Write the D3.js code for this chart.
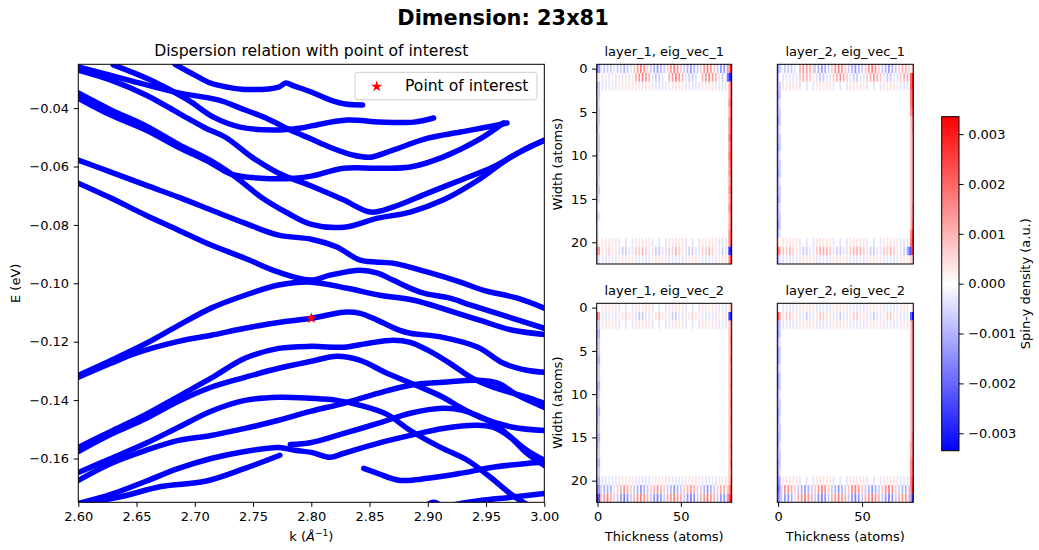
<!DOCTYPE html>
<html>
<head>
<meta charset="utf-8">
<script src="https://cdn.jsdelivr.net/npm/d3@7"></script>
<style>
  html, body { margin: 0; padding: 0; background: #fff; }
  svg { display: block; font-family: "DejaVu Sans", sans-serif; }
</style>
</head>
<body>
<svg id="fig" width="1039" height="550"></svg>
<script>
// ---------- dispersion bands, points are [k (1/Å), E (eV)] ----------
const band01 = [[2.683,-0.0250],[2.700,-0.0287],[2.714,-0.0315],[2.729,-0.0329],[2.743,-0.0336],[2.772,-0.0328],[2.778,-0.0314],[2.785,-0.0324],[2.800,-0.0345],[2.816,-0.0372],[2.829,-0.0386],[2.844,-0.0389]];
const band02 = [[2.630,-0.0252],[2.662,-0.0304],[2.694,-0.0372],[2.716,-0.0431],[2.739,-0.0465],[2.767,-0.0475],[2.791,-0.0468],[2.800,-0.0461],[2.831,-0.0441],[2.859,-0.0448],[2.888,-0.0448],[2.905,-0.0434]];
const band03 = [[2.600,-0.0259],[2.643,-0.0304],[2.686,-0.0348],[2.720,-0.0372],[2.739,-0.0400],[2.761,-0.0434],[2.782,-0.0475],[2.800,-0.0506],[2.816,-0.0534],[2.836,-0.0561],[2.851,-0.0568],[2.870,-0.0544],[2.900,-0.0503],[2.928,-0.0482],[2.960,-0.0458],[2.968,-0.0451]];
const band04 = [[2.600,-0.0366],[2.628,-0.0424],[2.658,-0.0475],[2.686,-0.0534],[2.714,-0.0588],[2.731,-0.0626],[2.757,-0.0640],[2.786,-0.0640],[2.800,-0.0633],[2.828,-0.0606],[2.857,-0.0606],[2.885,-0.0602],[2.913,-0.0568],[2.943,-0.0510],[2.965,-0.0451]];
const band05 = [[2.600,-0.0270],[2.628,-0.0304],[2.658,-0.0355],[2.686,-0.0417],[2.709,-0.0468],[2.726,-0.0499],[2.749,-0.0568],[2.772,-0.0623],[2.800,-0.0667],[2.828,-0.0715],[2.851,-0.0756],[2.870,-0.0739],[2.900,-0.0691],[2.928,-0.0647],[2.956,-0.0602],[2.985,-0.0537],[3.000,-0.0510]];
const band06 = [[2.600,-0.0348],[2.628,-0.0406],[2.658,-0.0461],[2.686,-0.0524],[2.714,-0.0581],[2.735,-0.0636],[2.757,-0.0705],[2.780,-0.0760],[2.800,-0.0798],[2.828,-0.0808],[2.857,-0.0777],[2.885,-0.0756],[2.913,-0.0715],[2.943,-0.0647],[2.971,-0.0568],[3.000,-0.0510]];
const band07 = [[2.600,-0.0578],[2.628,-0.0619],[2.658,-0.0664],[2.686,-0.0705],[2.714,-0.0749],[2.743,-0.0794],[2.772,-0.0835],[2.800,-0.0849],[2.822,-0.0876],[2.842,-0.0921],[2.870,-0.0931],[2.900,-0.0962],[2.928,-0.0996],[2.948,-0.1024],[2.977,-0.1051],[3.000,-0.1085]];
const band08 = [[2.600,-0.0657],[2.628,-0.0708],[2.658,-0.0767],[2.686,-0.0818],[2.714,-0.0869],[2.743,-0.0914],[2.772,-0.0962],[2.800,-0.0989],[2.816,-0.0972],[2.842,-0.0955],[2.857,-0.0965],[2.870,-0.0989],[2.894,-0.1031],[2.919,-0.1051],[2.937,-0.1075],[2.965,-0.1110],[3.000,-0.1154]];
const band09 = [[2.600,-0.1315],[2.628,-0.1264],[2.658,-0.1206],[2.686,-0.1144],[2.714,-0.1085],[2.743,-0.1041],[2.772,-0.1006],[2.800,-0.0996],[2.831,-0.1017],[2.859,-0.1041],[2.888,-0.1058],[2.917,-0.1092],[2.945,-0.1127],[2.973,-0.1161],[3.000,-0.1175]];
const band10 = [[2.600,-0.1322],[2.628,-0.1274],[2.649,-0.1240],[2.686,-0.1199],[2.714,-0.1178],[2.743,-0.1154],[2.772,-0.1134],[2.800,-0.1120],[2.828,-0.1099],[2.842,-0.1103],[2.857,-0.1127],[2.876,-0.1161],[2.885,-0.1171],[2.913,-0.1185],[2.943,-0.1219],[2.965,-0.1274],[2.985,-0.1298],[3.000,-0.1305]];
const band11 = [[2.600,-0.1562],[2.628,-0.1507],[2.658,-0.1449],[2.686,-0.1387],[2.714,-0.1325],[2.743,-0.1257],[2.772,-0.1223],[2.800,-0.1216],[2.828,-0.1219],[2.848,-0.1206],[2.870,-0.1195],[2.885,-0.1202],[2.900,-0.1229],[2.919,-0.1274],[2.937,-0.1322],[2.956,-0.1356],[2.985,-0.1390],[3.000,-0.1411]];
const band12 = [[2.600,-0.1576],[2.628,-0.1517],[2.658,-0.1463],[2.686,-0.1404],[2.714,-0.1356],[2.743,-0.1322],[2.772,-0.1291],[2.800,-0.1267],[2.822,-0.1250],[2.842,-0.1264],[2.865,-0.1308],[2.894,-0.1356],[2.913,-0.1390],[2.928,-0.1425],[2.945,-0.1459],[2.973,-0.1493],[3.000,-0.1504]];
const band13 = [[2.600,-0.1648],[2.628,-0.1600],[2.658,-0.1548],[2.686,-0.1493],[2.714,-0.1438],[2.743,-0.1401],[2.772,-0.1390],[2.800,-0.1394],[2.822,-0.1401],[2.842,-0.1418],[2.865,-0.1449],[2.885,-0.1504],[2.911,-0.1562],[2.934,-0.1606],[2.954,-0.1665],[2.973,-0.1727],[2.986,-0.1760]];
const band14 = [[2.600,-0.1675],[2.628,-0.1617],[2.658,-0.1572],[2.686,-0.1538],[2.714,-0.1521],[2.743,-0.1497],[2.772,-0.1469],[2.800,-0.1438],[2.828,-0.1411],[2.857,-0.1377],[2.885,-0.1349],[2.913,-0.1339],[2.943,-0.1332],[2.960,-0.1342],[2.977,-0.1383],[3.000,-0.1425]];
const band15 = [[2.600,-0.1754],[2.628,-0.1723],[2.658,-0.1678],[2.686,-0.1634],[2.714,-0.1600],[2.743,-0.1576],[2.772,-0.1562],[2.786,-0.1572],[2.800,-0.1579],[2.816,-0.1596],[2.828,-0.1582],[2.857,-0.1548],[2.885,-0.1521],[2.913,-0.1497],[2.943,-0.1486],[2.956,-0.1493],[2.971,-0.1528],[2.985,-0.1582],[3.000,-0.1624]];
const band16 = [[2.600,-0.1754],[2.634,-0.1733],[2.671,-0.1696],[2.709,-0.1678],[2.743,-0.1634],[2.773,-0.1589]];
const band17 = [[2.782,-0.1552],[2.800,-0.1545],[2.828,-0.1514],[2.857,-0.1480],[2.885,-0.1445],[2.913,-0.1428],[2.930,-0.1435],[2.956,-0.1480],[2.985,-0.1572],[3.000,-0.1606]];
const band18 = [[2.845,-0.1634],[2.857,-0.1651],[2.876,-0.1675],[2.900,-0.1668],[2.928,-0.1651],[2.956,-0.1630],[2.985,-0.1617],[3.000,-0.1613]];
const band19 = [[2.924,-0.1757],[2.945,-0.1744],[2.971,-0.1733],[3.000,-0.1720]];
const band20 = [[2.899,-0.1760],[2.905,-0.1750],[2.911,-0.1760]];
const bands = [band01,band02,band03,band04,band05,band06,band07,band08,band09,band10,
               band11,band12,band13,band14,band15,band16,band17,band18,band19,band20];

const pointOfInterest = [2.80, -0.112];
const kTicks = [2.60, 2.65, 2.70, 2.75, 2.80, 2.85, 2.90, 2.95, 3.00];
const eTicks = [-0.16, -0.14, -0.12, -0.10, -0.08, -0.06, -0.04];

// ---------- spin-y density maps (23 rows x 81 columns) ----------
// one character per cell: '0'..'9' -> +n steps, 'a'..'i' -> -(1..9) steps
const densityStep = 0.00035;
const densityLimit = 0.00335;
const widthTicks = [0, 5, 10, 15, 20];
const thicknessTicks = [0, 50];
const colorbarTicks = [-0.003, -0.002, -0.001, 0.000, 0.001, 0.002, 0.003];

// rows 0-2 and 20-22 of each map; edge columns 0, 1, 79, 80 (rows 0..22)
const l1v1Top = [
  "fc"+"a0b0b0b0a0"+"b0b0c0b0a0"+"2040504020"+"b0c0d0c0b0"+"2040504020"+"b0c0d0c0b0"+"2040504020"+"b0d0d0c"+"38",
  "10"+"0a010a010a"+"010a010a01"+"0304050403"+"0a0b0b0a00"+"0304050403"+"0a0b0b0a00"+"0304050403"+"0a0b00e"+"gi",
  "a0"+"0a0a0a0a0a"+"0101010101"+"0101010101"+"0a0a0a0a0a"+"0101010101"+"0a0a0a0a0a"+"0101010101"+"0a0a0a0"+"25"];
const l1v1Bottom = [
  "00"+"0101010101"+"0a000a000a"+"0101010101"+"0a000a000a"+"0101010101"+"0a000a000a"+"0101010101"+"0a0a0a0"+"00",
  "00"+"0101020101"+"0a0b0b0a0a"+"0202030201"+"0a0b0b0a0a"+"0202030201"+"0a0b0b0a0a"+"0202030201"+"0a0b0a0"+"00",
  "00"+"0a0a0a0a0a"+"0101010101"+"0a0a0a0a0a"+"0101010101"+"0a0a0a0a0a"+"0101010101"+"0a0a0a0a0a"+"0101010"+"00"];
const l1v1Edges = ["f2"+"dcdccdccdccdccbcbb"+"36c", "d1"+"bbabbabbabbaba0a00"+"04a",
                   "4h"+"334344545443434334"+"4h4", "9i"+"667677878776767667"+"7i8"];

const l2v1Top = [
  "a0"+"a0b0b0b0a0"+"0304040302"+"b0c0d0c0b0"+"2040504020"+"b0c0d0c0b0"+"2040504020"+"b0c0d0c0b0"+"2030302"+"0b",
  "00"+"0a0a0a0a0a"+"0203030201"+"0a0b0b0a0a"+"0203040302"+"0a0b0b0a0a"+"0203040302"+"0a0b0b0a0a"+"0203030"+"58",
  "00"+"0101010101"+"0a000a000a"+"0101010101"+"0a000a000a"+"0101010101"+"0a000a000a"+"0101010101"+"0a0a0a0"+"00"];
const l2v1Bottom = [
  "00"+"0101010101"+"0a000a000a"+"0101010101"+"0a000a000a"+"0101010101"+"0a000a000a"+"0101010101"+"0a0a0a0"+"00",
  "00"+"0202030201"+"0a0b0b0a0a"+"0203030302"+"0a0b0b0a0a"+"0203030302"+"0a0b0b0a0a"+"0202030201"+"0a0b0ce"+"00",
  "00"+"0a0a0a0a0a"+"0101010101"+"0a0a0a0a0a"+"0101010101"+"0a0a0a0a0a"+"0101010101"+"0a0a0a0a0a"+"0101010"+"00"];
const l2v1Edges = ["dc"+"cdccdccdccdccdccdc"+"26c", "b0"+"bbabbabbabbabbabba"+"03a",
                   "06"+"6554"+"2222222222222"+"45g2", "39"+"9887"+"5544444444556"+"8982"];

const l1v2Top = [
  "00"+"0101010101"+"0a000a000a"+"0101010101"+"0a000a000a"+"0101010101"+"0a000a000a"+"0101010101"+"0a0a0a0"+"00",
  "00"+"0a0a0a0a0a"+"0101020101"+"0a0b0b0a0a"+"0101020101"+"0a0b0b0a0a"+"0101020101"+"0a0a0a0a0a"+"0101010"+"00",
  "00"+"0101010101"+"0a000a000a"+"0101010101"+"0a000a000a"+"0101010101"+"0a000a000a"+"0101010101"+"0a0a0a0"+"00"];
const l1v2Bottom = [
  "00"+"0a0a0a0a0a"+"0101010101"+"0a0a0a0a0a"+"0101010101"+"0a0a0a0a0a"+"0101010101"+"0a0a0a0a0a"+"0101010"+"00",
  "00"+"b0c0c0c0a0"+"2030403020"+"b0c0d0c0b0"+"2030403020"+"b0c0d0c0b0"+"2030403020"+"b0c0d0c0b0"+"2030302"+"00",
  "i0"+"3040503020"+"b0d0e0d0b0"+"3040504030"+"b0d0e0d0b0"+"3040504030"+"b0d0e0d0b0"+"3040504030"+"b0d0d0c"+"08"];
const l1v2Edges = ["07"+"cdccdccddcddcddcdc"+"dfi", "04"+"bcbbcbbcbbcbbcbbcb"+"cdg",
                   "1g"+"222222222222222222"+"246", "3i"+"445454454545445454"+"579"];

const l2v2Top = [
  "00"+"0a0a0a0a0a"+"0101010101"+"0a0a0a0a0a"+"0101010101"+"0a0a0a0a0a"+"0101010101"+"0a0a0a0a0a"+"0101010"+"00",
  "00"+"0102020101"+"0a0a0b0a0a"+"0102020101"+"0a0a0b0a0a"+"0102020101"+"0a0a0b0a0a"+"0102020101"+"0a0a0a0"+"00",
  "00"+"0a0a0a0a0a"+"0101010101"+"0a0a0a0a0a"+"0101010101"+"0a0a0a0a0a"+"0101010101"+"0a0a0a0a0a"+"0101010"+"00"];
const l2v2Bottom = [
  "00"+"0101010101"+"0a000a000a"+"0101010101"+"0a000a000a"+"0101010101"+"0a000a000a"+"0101010101"+"0a0a0a0"+"00",
  "00"+"2040403020"+"b0c0d0c0b0"+"2040504020"+"b0c0d0c0b0"+"2040504020"+"b0c0d0c0b0"+"2040504020"+"b0c0c0b"+"00",
  "b0"+"b0d0d0c0a0"+"3040504030"+"b0d0e0d0b0"+"3040504030"+"b0d0e0d0b0"+"3040504030"+"b0d0e0d0b0"+"3040403"+"0g"];
const l2v2Edges = ["a7"+"ddcddcddccddcddcdd"+"efe", "03"+"bbabbabbabbabbabba"+"cdc",
                   "0f"+"222222222222223344"+"54c", "1i"+"555555555555566677"+"89h"];

const panelTitles = ["layer_1, eig_vec_1", "layer_2, eig_vec_1", "layer_1, eig_vec_2", "layer_2, eig_vec_2"];

// ---------- helpers ----------
function cellValue(ch) {
  if (ch >= "0" && ch <= "9") return (+ch) * densityStep;
  const n = ch.charCodeAt(0) - 96; // 'a' -> 1
  return (n >= 1 && n <= 9) ? -n * densityStep : 0;
}
function buildGrid(top, bottom, edges) {
  const g = [];
  for (let r = 0; r < 23; r++) g.push(new Array(81).fill(0));
  const fillRow = (r, s) => { for (let c = 0; c < 81 && c < s.length; c++) g[r][c] = cellValue(s[c]); };
  top.forEach((s, i) => fillRow(i, s));
  bottom.forEach((s, i) => fillRow(20 + i, s));
  const cols = [0, 1, 79, 80];
  edges.forEach((s, i) => { for (let r = 0; r < 23 && r < s.length; r++) g[r][cols[i]] = cellValue(s[r]); });
  return g;
}

const svg = d3.select("#fig");
const defs = svg.append("defs");
const font = "DejaVu Sans, sans-serif";
const fmt2 = d3.format(".2f");
const fmt3 = d3.format(".3f");

function styleAxis(g) {
  g.select(".domain").remove();
  g.selectAll(".tick line").attr("stroke", "#000").attr("stroke-width", 1);
  g.selectAll(".tick text").attr("fill", "#000").attr("font-size", "13px").attr("font-family", font);
}

// ---------- figure title ----------
svg.append("text").attr("x", 503).attr("y", 25).attr("text-anchor", "middle")
  .attr("font-size", "20.9px").attr("font-weight", "bold").attr("fill", "#000")
  .text("Dimension: 23x81");

// ---------- dispersion panel ----------
const M = { l: 78.3, r: 544.3, t: 64.3, b: 502.3 };
const x = d3.scaleLinear().domain([2.6, 3.0]).range([M.l, M.r]);
const y = d3.scaleLinear().domain([-0.175, -0.025]).range([M.b, M.t]);

defs.append("clipPath").attr("id", "clipMain")
  .append("rect").attr("x", M.l).attr("y", M.t).attr("width", M.r - M.l).attr("height", M.b - M.t);

const bandLine = d3.line().x(d => x(d[0])).y(d => y(d[1])).curve(d3.curveCatmullRom.alpha(0.5));
svg.append("g").attr("clip-path", "url(#clipMain)")
  .selectAll("path").data(bands).join("path")
  .attr("d", bandLine).attr("fill", "none").attr("stroke", "#0000ff")
  .attr("stroke-width", 5.5).attr("stroke-linecap", "round").attr("stroke-linejoin", "round");

svg.append("path")
  .attr("transform", `translate(${x(pointOfInterest[0])},${y(pointOfInterest[1])})`)
  .attr("d", d3.symbol(d3.symbolStar, 40)()).attr("fill", "#ff0000");

svg.append("g").attr("transform", `translate(0,${M.b})`)
  .call(d3.axisBottom(x).tickValues(kTicks).tickFormat(fmt2).tickSizeOuter(0).tickSize(4.6).tickPadding(5))
  .call(styleAxis);
svg.append("g").attr("transform", `translate(${M.l},0)`)
  .call(d3.axisLeft(y).tickValues(eTicks).tickFormat(fmt2).tickSizeOuter(0).tickSize(4.6).tickPadding(4.6))
  .call(styleAxis);
svg.append("rect").attr("x", M.l).attr("y", M.t).attr("width", M.r - M.l).attr("height", M.b - M.t)
  .attr("fill", "none").attr("stroke", "#000").attr("stroke-width", 1);

svg.append("text").attr("x", (M.l + M.r) / 2).attr("y", 56).attr("text-anchor", "middle")
  .attr("font-size", "15.6px").attr("fill", "#000").text("Dispersion relation with point of interest");

const kLabel = svg.append("text").attr("x", (M.l + M.r) / 2).attr("y", 541).attr("text-anchor", "middle")
  .attr("font-size", "13px").attr("fill", "#000");
kLabel.append("tspan").text("k (");
kLabel.append("tspan").attr("font-style", "italic").text("Å");
kLabel.append("tspan").attr("font-size", "9px").attr("dy", -5).text("−1");
kLabel.append("tspan").attr("dy", 5).text(")");

svg.append("text").attr("transform", `translate(19.5,${(M.t + M.b) / 2}) rotate(-90)`)
  .attr("text-anchor", "middle").attr("font-size", "13px").attr("fill", "#000").text("E (eV)");

// legend
const lg = svg.append("g");
lg.append("rect").attr("x", 355).attr("y", 72.3).attr("width", 182).attr("height", 27.5).attr("rx", 3)
  .attr("fill", "#fff").attr("fill-opacity", 0.8).attr("stroke", "#cccccc").attr("stroke-width", 1);
lg.append("path").attr("transform", "translate(376.7,86.5)")
  .attr("d", d3.symbol(d3.symbolStar, 40)()).attr("fill", "#ff0000");
lg.append("text").attr("x", 405).attr("y", 90.5).attr("font-size", "15.6px").attr("fill", "#000")
  .text("Point of interest");

// ---------- density maps ----------
const color = d3.scaleLinear().domain([-densityLimit, 0, densityLimit])
  .range(["#0000ff", "#ffffff", "#ff0000"]).clamp(true);

const panels = [
  { grid: buildGrid(l1v1Top, l1v1Bottom, l1v1Edges), l: 596.7, r: 731.7, t: 64.3, b: 264.0, left: true,  bottom: false },
  { grid: buildGrid(l2v1Top, l2v1Bottom, l2v1Edges), l: 777.3, r: 913.3, t: 64.3, b: 264.0, left: false, bottom: false },
  { grid: buildGrid(l1v2Top, l1v2Bottom, l1v2Edges), l: 596.7, r: 731.7, t: 303.3, b: 502.3, left: true,  bottom: true },
  { grid: buildGrid(l2v2Top, l2v2Bottom, l2v2Edges), l: 777.3, r: 913.3, t: 303.3, b: 502.3, left: false, bottom: true }
];

panels.forEach((p, i) => {
  const px = d3.scaleLinear().domain([-0.5, 80.5]).range([p.l, p.r]);
  const py = d3.scaleLinear().domain([-0.5, 22.5]).range([p.t, p.b]);
  const cells = [];
  p.grid.forEach((row, r) => row.forEach((v, c) => { if (v !== 0) cells.push({ r, c, v }); }));
  const g = svg.append("g");
  g.append("rect").attr("x", p.l).attr("y", p.t).attr("width", p.r - p.l).attr("height", p.b - p.t).attr("fill", "#fff");
  g.selectAll("rect.cell").data(cells).join("rect").attr("class", "cell")
    .attr("x", d => px(d.c - 0.5)).attr("y", d => py(d.r - 0.5))
    .attr("width", px(1) - px(0) + 0.05).attr("height", py(1) - py(0) + 0.05)
    .attr("fill", d => color(d.v));
  g.append("rect").attr("x", p.l).attr("y", p.t).attr("width", p.r - p.l).attr("height", p.b - p.t)
    .attr("fill", "none").attr("stroke", "#000").attr("stroke-width", 1);

  svg.append("text").attr("x", (p.l + p.r) / 2).attr("y", p.t - 8.3).attr("text-anchor", "middle")
    .attr("font-size", "13px").attr("fill", "#000").text(panelTitles[i]);

  if (p.left) {
    svg.append("g").attr("transform", `translate(${p.l},0)`)
      .call(d3.axisLeft(py).tickValues(widthTicks).tickFormat(d3.format("d")).tickSizeOuter(0).tickSize(4.6).tickPadding(4.6))
      .call(styleAxis);
    svg.append("text").attr("transform", `translate(561.5,${(p.t + p.b) / 2}) rotate(-90)`)
      .attr("text-anchor", "middle").attr("font-size", "13px").attr("fill", "#000").text("Width (atoms)");
  }
  if (p.bottom) {
    svg.append("g").attr("transform", `translate(0,${p.b})`)
      .call(d3.axisBottom(px).tickValues(thicknessTicks).tickFormat(d3.format("d")).tickSizeOuter(0).tickSize(4.6).tickPadding(5))
      .call(styleAxis);
    svg.append("text").attr("x", (p.l + p.r) / 2).attr("y", 541).attr("text-anchor", "middle")
      .attr("font-size", "13px").attr("fill", "#000").text("Thickness (atoms)");
  }
});

// ---------- colorbar ----------
const CB = { l: 941.7, r: 959.0, t: 116.7, b: 450.7 };
const grad = defs.append("linearGradient").attr("id", "bwr")
  .attr("x1", 0).attr("y1", 1).attr("x2", 0).attr("y2", 0);
grad.append("stop").attr("offset", "0%").attr("stop-color", "#0000ff");
grad.append("stop").attr("offset", "50%").attr("stop-color", "#ffffff");
grad.append("stop").attr("offset", "100%").attr("stop-color", "#ff0000");
svg.append("rect").attr("x", CB.l).attr("y", CB.t).attr("width", CB.r - CB.l).attr("height", CB.b - CB.t)
  .attr("fill", "url(#bwr)").attr("stroke", "#000").attr("stroke-width", 1);
const cy = d3.scaleLinear().domain([-densityLimit, densityLimit]).range([CB.b, CB.t]);
svg.append("g").attr("transform", `translate(${CB.r},0)`)
  .call(d3.axisRight(cy).tickValues(colorbarTicks).tickFormat(fmt3).tickSizeOuter(0).tickSize(4.6).tickPadding(4.6))
  .call(styleAxis);
svg.append("text").attr("transform", `translate(1029.5,${(CB.t + CB.b) / 2}) rotate(-90)`)
  .attr("text-anchor", "middle").attr("font-size", "13px").attr("fill", "#000").text("Spin-y density (a.u.)");
</script>
</body>
</html>
